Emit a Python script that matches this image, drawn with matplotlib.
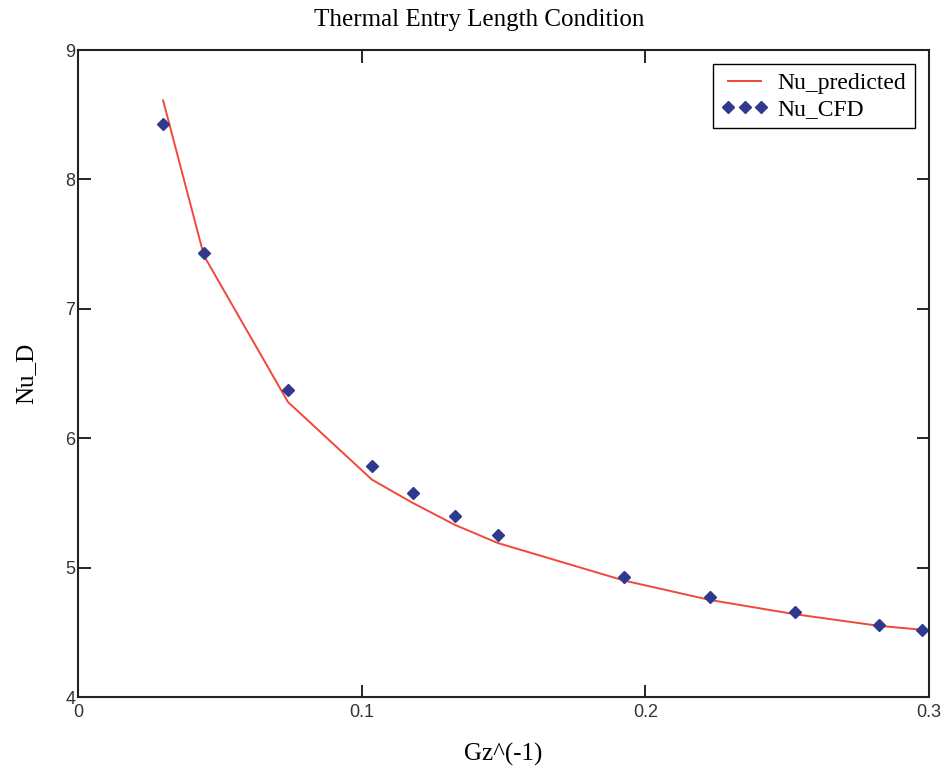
import matplotlib.pyplot as plt
import numpy as np

# data
gz_inv = [0.030, 0.0444, 0.074, 0.1036, 0.118, 0.1329, 0.148, 0.1925, 0.2228, 0.2527, 0.2823, 0.2975]
nu_cfd = [8.43, 7.43, 6.37, 5.785, 5.58, 5.40, 5.25, 4.93, 4.77, 4.66, 4.56, 4.52]
nu_pred = [8.61, 7.41, 6.28, 5.68, 5.50, 5.33, 5.19, 4.90, 4.75, 4.64, 4.55, 4.52]

x_ticks = [0, 0.1, 0.2, 0.3]
y_ticks = [4, 5, 6, 7, 8, 9]

serif = 'Liberation Serif'
sans = 'Liberation Sans'

fig = plt.figure(figsize=(9.47, 7.78), dpi=100)
ax = fig.add_axes([0.0824, 0.1041, 0.8986, 0.8316])

ax.plot(gz_inv, nu_pred, color='#f2473a', linewidth=1.4, label='Nu_predicted')
ax.plot(gz_inv, nu_cfd, linestyle='none', marker='D', markersize=6.5,
        color='#2f3a8f', label='Nu_CFD')

ax.set_xlim(0, 0.3)
ax.set_ylim(4, 9)
ax.set_xticks(x_ticks)
ax.set_xticklabels(['0', '0.1', '0.2', '0.3'])
ax.set_yticks(y_ticks)
ax.set_yticklabels([str(v) for v in y_ticks])

ax.tick_params(direction='in', length=9, width=1.2, top=True, right=True,
               labelsize=13)
ax.tick_params(axis='x', pad=5)
ax.tick_params(axis='y', pad=2)
for lab in ax.get_xticklabels() + ax.get_yticklabels():
    lab.set_family(sans)
    lab.set_color('#333333')
for sp in ax.spines.values():
    sp.set_linewidth(1.5)
    sp.set_color('#222222')

ax.set_title('Thermal Entry Length Condition', family=serif, fontsize=18,
             pad=17, x=0.471)
ax.set_xlabel('Gz^(-1)', family=serif, fontsize=18, labelpad=16)
ax.set_ylabel('Nu_D', family=serif, fontsize=18, labelpad=20)

leg = ax.legend(loc='upper right', numpoints=3, prop={'family': serif, 'size': 17},
                frameon=True, fancybox=False, framealpha=1, edgecolor='black',
                handlelength=2.0, handletextpad=0.4, borderaxespad=0.6,
                labelspacing=0.2, borderpad=0.35)
leg.get_frame().set_linewidth(1.0)

fig.savefig('out.png', dpi=100)
